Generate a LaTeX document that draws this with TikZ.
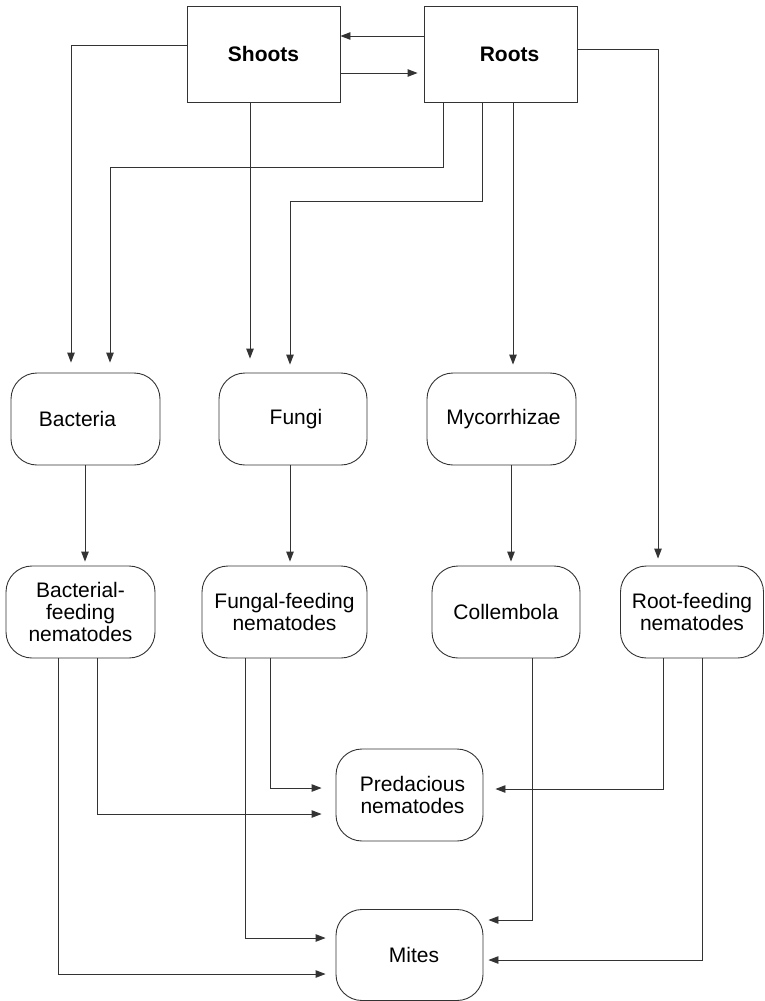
\documentclass[tikz,border=0pt]{standalone}
\usepackage{fontspec}
\setmainfont{Liberation Sans}
\usetikzlibrary{arrows.meta}
\begin{document}
\begin{tikzpicture}[x=1pt,y=-1pt,
  line width=0.9pt,
  every node/.style={font=\fontsize{21}{22}\selectfont, align=center, inner sep=0pt},
  plantbox/.style={draw=black!80, rectangle, minimum width=153pt, minimum height=96pt, font=\fontsize{21}{22}\selectfont\bfseries},
  biobox/.style={draw=black!80, rectangle, rounded corners=26pt, minimum height=92pt},
  arr/.style={draw=black!80, -{Triangle[length=10pt,width=7.5pt]}}]
\useasboundingbox (0,0) rectangle (765,1001);
% top boxes
\node[plantbox] (shoots) at (263.5,54) {Shoots};
\node[plantbox] (roots) at (500.5,54) {\hspace{18pt}Roots};
% row 1
\node[biobox, minimum width=149pt] (bact) at (85.5,419) {Bacteria\hspace{16pt}};
\node[biobox, minimum width=148pt] (fungi) at (293,419) {\hspace{6pt}Fungi};
\node[biobox, minimum width=149pt] (myco) at (501.5,419) {\hspace{4pt}Mycorrhizae};
% row 2
\node[biobox, minimum width=149pt] (bactn) at (80.5,612) {Bacterial-\\feeding\\nematodes};
\node[biobox, minimum width=165pt] (fungn) at (284.5,612) {Fungal-feeding\\nematodes};
\node[biobox, minimum width=148pt] (coll) at (506,612) {Collembola};
\node[biobox, minimum width=143pt] (rootn) at (692,612) {Root-feeding\\nematodes};
% bottom
\node[biobox, minimum width=147pt] (pred) at (409.5,795) {\hspace{6pt}Predacious\\\hspace{6pt}nematodes};
\node[biobox, minimum width=147pt, minimum height=91pt] (mites) at (409.5,955) {\hspace{9pt}Mites};

% shoots <-> roots
\draw[arr] (roots.west |- 0,36) -- (shoots.east |- 0,36);
\draw[arr, shorten >=6pt] (shoots.east |- 0,73) -- (roots.west |- 0,73);
% shoots -> bacteria
\draw[arr, shorten >=10pt] (shoots.west |- 0,45) -| (bact.north -| 71,0);
% roots -> bacteria
\draw[arr, shorten >=10pt] (roots.south -| 443,0) |- (110,167) -- (bact.north -| 110,0);
% shoots -> fungi
\draw[arr, shorten >=14pt] (shoots.south -| 250,0) -- (fungi.north -| 250,0);
% roots -> fungi
\draw[arr, shorten >=8pt] (roots.south -| 482,0) |- (290,201) -- (fungi.north -| 290,0);
% roots -> mycorrhizae
\draw[arr, shorten >=8pt] (roots.south -| 513,0) -- (myco.north -| 513,0);
% roots -> root-feeding
\draw[arr, shorten >=7pt] (roots.east |- 0,49) -| (rootn.north -| 658,0);
% row1 -> row2
\draw[arr, shorten >=4pt] (bact.south -| 85,0) -- (bactn.north -| 85,0);
\draw[arr, shorten >=4pt] (fungi.south -| 290,0) -- (fungn.north -| 290,0);
\draw[arr, shorten >=4pt] (myco.south -| 511,0) -- (coll.north -| 511,0);
% row2 -> predacious / mites
\draw[arr, shorten >=14pt] (bactn.south -| 97,0) |- (pred.west |- 0,814);
\draw[arr, shorten >=10pt] (bactn.south -| 58,0) |- (mites.west |- 0,974);
\draw[arr, shorten >=14pt] (fungn.south -| 270,0) |- (pred.west |- 0,788);
\draw[arr, shorten >=10pt] (fungn.south -| 245,0) |- (mites.west |- 0,938);
\draw[arr, shorten >=5pt] (coll.south -| 532,0) |- (mites.east |- 0,920);
\draw[arr, shorten >=12pt] (rootn.south -| 663,0) |- (pred.east |- 0,789);
\draw[arr, shorten >=5pt] (rootn.south -| 702,0) |- (mites.east |- 0,960);
\end{tikzpicture}
\end{document}
